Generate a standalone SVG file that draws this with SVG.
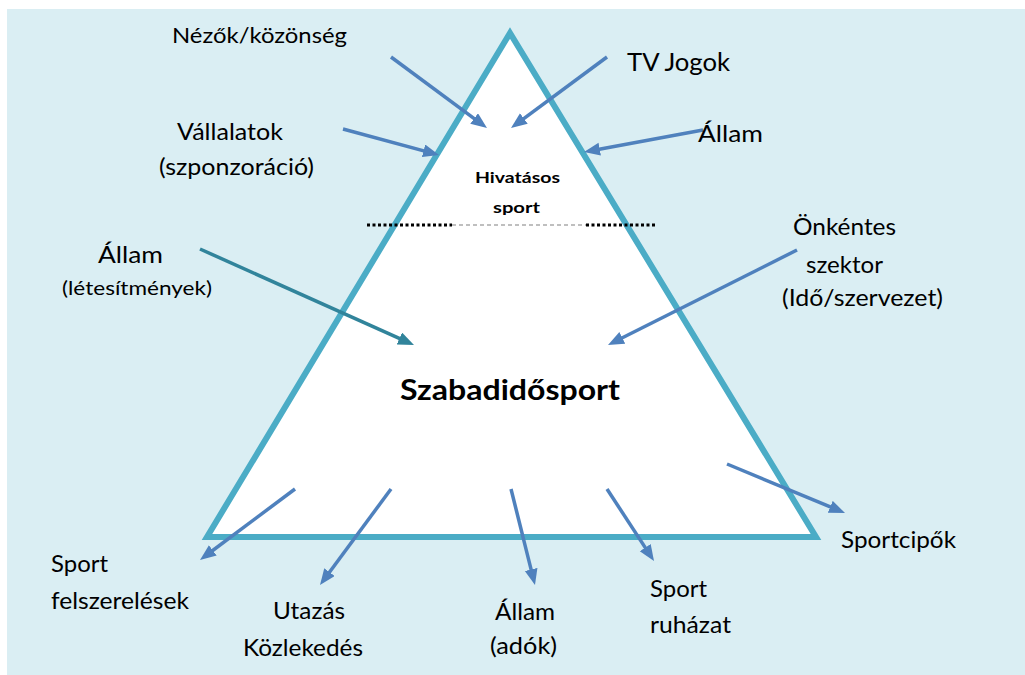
<svg xmlns="http://www.w3.org/2000/svg" width="1025" height="675" viewBox="0 0 1025 675">
<style>
.lbl{font-family:Lato,"Liberation Sans",sans-serif;fill:#000}
.b{font-weight:bold}
.arr{stroke:#4F81BD;stroke-width:3.5;fill:none;marker-end:url(#ah)}
.arrT{stroke:#31849B;stroke-width:3.5;fill:none;marker-end:url(#ahT)}
</style>
<defs>
<marker id="ah" markerUnits="userSpaceOnUse" markerWidth="18" markerHeight="14" refX="6" refY="6.5" orient="auto"><path d="M0,0 L16,6.5 L0,13 z" fill="#4F81BD"/></marker>
<marker id="ahT" markerUnits="userSpaceOnUse" markerWidth="18" markerHeight="14" refX="6" refY="6.5" orient="auto"><path d="M0,0 L16,6.5 L0,13 z" fill="#31849B"/></marker>
<clipPath id="clipSport"><rect x="400" y="150" width="220" height="65"/></clipPath>
</defs>
<rect x="7" y="9" width="1018" height="666" fill="#DAEEF3"/>
<g id="pyramid">
<polygon points="510,33 207,537 816,537" fill="#FFFFFF" stroke="#4BACC6" stroke-width="6" stroke-linejoin="miter"/>
</g>
<g id="divider">
<line x1="367" y1="225" x2="452" y2="225" stroke="#000" stroke-width="3" stroke-dasharray="3,2.5"/>
<line x1="452" y1="225" x2="586" y2="225" stroke="#AAAAAA" stroke-width="1.5" stroke-dasharray="4,3"/>
<line x1="586" y1="225" x2="656" y2="225" stroke="#000" stroke-width="3" stroke-dasharray="3,2.5"/>
</g>
<g id="connectors">
<line class="arr" x1="391" y1="57" x2="478.96" y2="122.05"/>
<line class="arr" x1="607" y1="57" x2="519.04" y2="122.05"/>
<line class="arr" x1="343" y1="129" x2="429.35" y2="152.39"/>
<line class="arr" x1="703" y1="130" x2="593.83" y2="150.18"/>
<line class="arrT" x1="200" y1="249" x2="404.87" y2="340.91"/>
<line class="arr" x1="797" y1="250" x2="616.93" y2="340.51"/>
<line class="arr" x1="295" y1="489" x2="208.01" y2="554.01"/>
<line class="arr" x1="391" y1="489" x2="325.95" y2="576.96"/>
<line class="arr" x1="511" y1="489" x2="532.57" y2="575.30"/>
<line class="arr" x1="607" y1="489" x2="648.53" y2="552.63"/>
<line class="arr" x1="727" y1="464" x2="835.77" y2="509.17"/>
</g>
<g id="node-hivatasos">
<g clip-path="url(#clipSport)">
<text class="lbl b" x="475" y="183" font-size="16" textLength="85" lengthAdjust="spacingAndGlyphs">Hivatásos</text>
<text class="lbl b" x="493" y="213" font-size="16" textLength="47" lengthAdjust="spacingAndGlyphs">sport</text>
</g>
</g>
<g id="node-szabadido">
<text class="lbl b" x="400" y="400" font-size="28" textLength="220" lengthAdjust="spacingAndGlyphs">Szabadidősport</text>
</g>
<g id="node-nezok"><text class="lbl" x="172" y="43" font-size="22" textLength="175" lengthAdjust="spacingAndGlyphs">Nézők/közönség</text></g>
<g id="node-tv"><text class="lbl" x="627" y="71" font-size="25" textLength="103" lengthAdjust="spacingAndGlyphs">TV Jogok</text></g>
<g id="node-vallalatok">
<text class="lbl" x="177" y="140" font-size="23" textLength="106" lengthAdjust="spacingAndGlyphs">Vállalatok</text>
<text class="lbl" x="159" y="175" font-size="23" textLength="155" lengthAdjust="spacingAndGlyphs">(szponzoráció)</text>
</g>
<g id="node-allam-top"><text class="lbl" x="698" y="142" font-size="24" textLength="65" lengthAdjust="spacingAndGlyphs">Állam</text></g>
<g id="node-allam-left">
<text class="lbl" x="98" y="263" font-size="24" textLength="65" lengthAdjust="spacingAndGlyphs">Állam</text>
<text class="lbl" x="62" y="295" font-size="19" textLength="150" lengthAdjust="spacingAndGlyphs">(létesítmények)</text>
</g>
<g id="node-onkentes">
<text class="lbl" x="793" y="235" font-size="23" textLength="103" lengthAdjust="spacingAndGlyphs">Önkéntes</text>
<text class="lbl" x="806" y="273" font-size="23" textLength="77" lengthAdjust="spacingAndGlyphs">szektor</text>
<text class="lbl" x="782" y="306" font-size="23" textLength="161" lengthAdjust="spacingAndGlyphs">(Idő/szervezet)</text>
</g>
<g id="node-felszereles">
<text class="lbl" x="51" y="572" font-size="23" textLength="57" lengthAdjust="spacingAndGlyphs">Sport</text>
<text class="lbl" x="51" y="609" font-size="23" textLength="138" lengthAdjust="spacingAndGlyphs">felszerelések</text>
</g>
<g id="node-utazas">
<text class="lbl" x="273" y="619" font-size="23" textLength="72" lengthAdjust="spacingAndGlyphs">Utazás</text>
<text class="lbl" x="243" y="656" font-size="23" textLength="120" lengthAdjust="spacingAndGlyphs">Közlekedés</text>
</g>
<g id="node-allam-ado">
<text class="lbl" x="495" y="620" font-size="23" textLength="60" lengthAdjust="spacingAndGlyphs">Állam</text>
<text class="lbl" x="490" y="654" font-size="23" textLength="67" lengthAdjust="spacingAndGlyphs">(adók)</text>
</g>
<g id="node-ruhazat">
<text class="lbl" x="650" y="597" font-size="23" textLength="57" lengthAdjust="spacingAndGlyphs">Sport</text>
<text class="lbl" x="650" y="633" font-size="23" textLength="81" lengthAdjust="spacingAndGlyphs">ruházat</text>
</g>
<g id="node-sportcipok"><text class="lbl" x="841" y="548" font-size="23" textLength="115" lengthAdjust="spacingAndGlyphs">Sportcipők</text></g>
</svg>
